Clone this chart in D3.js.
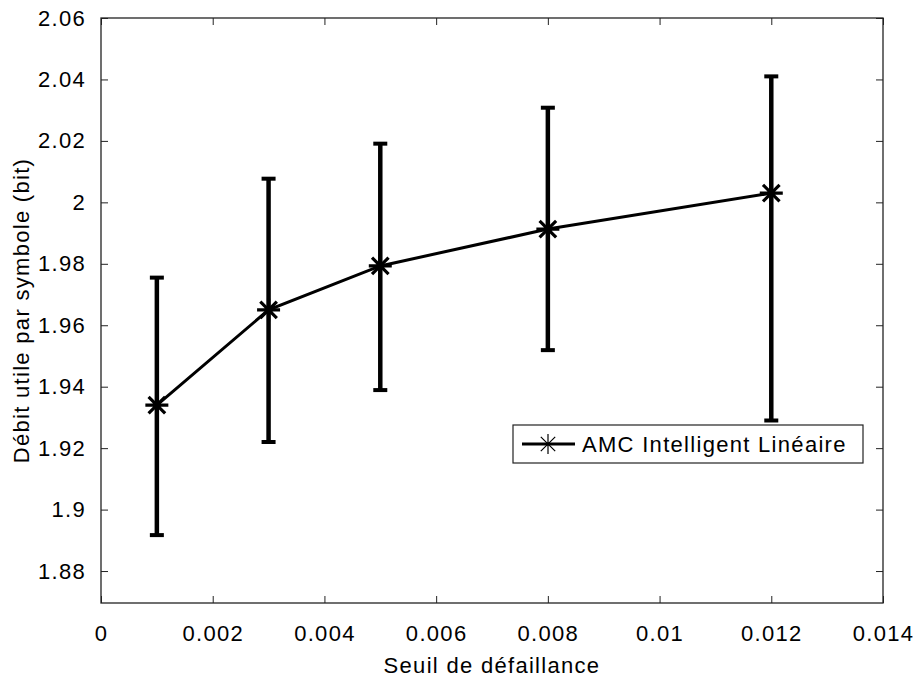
<!DOCTYPE html>
<html>
<head>
<meta charset="utf-8">
<script src="https://cdn.jsdelivr.net/npm/d3@7"></script>
<style>
  body { margin: 0; background: #fff; }
  text { font-family: "Liberation Sans", Arial, sans-serif; fill: #000; font-size: 22px; letter-spacing: 1.3px; }
</style>
</head>
<body>
<svg id="chart" width="918" height="681"></svg>
<script>
// data
const thresholds = [0.001, 0.003, 0.005, 0.008, 0.012];
const meanRate = [1.934, 1.965, 1.9793, 1.9913, 2.003];
const upperRate = [1.9755, 2.0077, 2.0191, 2.0308, 2.041];
const lowerRate = [1.8917, 1.922, 1.9389, 1.9519, 1.929];
const xTicks = [0, 0.002, 0.004, 0.006, 0.008, 0.01, 0.012, 0.014];
const yTicks = [1.88, 1.9, 1.92, 1.94, 1.96, 1.98, 2, 2.02, 2.04, 2.06];
const seriesName = "AMC Intelligent Linéaire";

const svg = d3.select("#chart");
const width = +svg.attr("width");
const height = +svg.attr("height");
const margin = { top: 18, right: 35, bottom: 78, left: 101 };
const innerWidth = width - margin.left - margin.right;
const innerHeight = height - margin.top - margin.bottom;

const data = thresholds.map((t, i) => ({
  x: t, y: meanRate[i], hi: upperRate[i], lo: lowerRate[i]
}));

const xScale = d3.scaleLinear().domain([0, 0.014]).range([0, innerWidth]);
const yScale = d3.scaleLinear().domain([1.8696, 2.06]).range([innerHeight, 0]);

const g = svg.append("g").attr("transform", `translate(${margin.left},${margin.top})`);

const fmt = (d) => (d === 0 ? "0" : String(+d.toFixed(4)));
const tickLen = 7;

// bottom axis + mirrored top ticks
const xAxis = g.append("g")
  .attr("transform", `translate(0,${innerHeight})`)
  .call(d3.axisBottom(xScale).tickValues(xTicks).tickFormat(fmt)
    .tickSizeInner(-tickLen).tickSizeOuter(0).tickPadding(22));
g.append("g")
  .call(d3.axisTop(xScale).tickValues(xTicks).tickFormat("")
    .tickSizeInner(-tickLen).tickSizeOuter(0));

// left axis + mirrored right ticks
const yAxis = g.append("g")
  .call(d3.axisLeft(yScale).tickValues(yTicks).tickFormat(fmt)
    .tickSizeInner(-tickLen).tickSizeOuter(0).tickPadding(15));
g.append("g")
  .attr("transform", `translate(${innerWidth},0)`)
  .call(d3.axisRight(yScale).tickValues(yTicks).tickFormat("")
    .tickSizeInner(-tickLen).tickSizeOuter(0));

g.selectAll(".domain").remove();
g.selectAll(".tick line").attr("stroke", "#222").attr("stroke-width", 1);
g.selectAll(".tick text").attr("font-size", null).attr("font-family", null).attr("fill", "#000");
g.selectAll("g").attr("font-size", null).attr("font-family", null);

// axes box
g.append("rect")
  .attr("x", 0).attr("y", 0)
  .attr("width", innerWidth).attr("height", innerHeight)
  .attr("fill", "none").attr("stroke", "#222").attr("stroke-width", 1.3);

// error bars
const capHalf = 7;
const bars = g.append("g").attr("stroke", "#000").attr("fill", "none");
bars.selectAll(".bar").data(data).enter().append("line")
  .attr("x1", (d) => xScale(d.x)).attr("x2", (d) => xScale(d.x))
  .attr("y1", (d) => yScale(d.lo)).attr("y2", (d) => yScale(d.hi))
  .attr("stroke-width", 4.5);
bars.selectAll(".capTop").data(data).enter().append("line")
  .attr("x1", (d) => xScale(d.x) - capHalf).attr("x2", (d) => xScale(d.x) + capHalf)
  .attr("y1", (d) => yScale(d.hi)).attr("y2", (d) => yScale(d.hi))
  .attr("stroke-width", 4);
bars.selectAll(".capBot").data(data).enter().append("line")
  .attr("x1", (d) => xScale(d.x) - capHalf).attr("x2", (d) => xScale(d.x) + capHalf)
  .attr("y1", (d) => yScale(d.lo)).attr("y2", (d) => yScale(d.lo))
  .attr("stroke-width", 4);

// mean line
const line = d3.line().x((d) => xScale(d.x)).y((d) => yScale(d.y));
g.append("path").datum(data)
  .attr("d", line)
  .attr("fill", "none").attr("stroke", "#000").attr("stroke-width", 3);

// asterisk markers ("+" and "x")
const starPath = (r) => {
  const d = r * 0.72;
  return `M${-r},0L${r},0M0,${-r}L0,${r}M${-d},${-d}L${d},${d}M${-d},${d}L${d},${-d}`;
};
g.selectAll(".star").data(data).enter().append("path")
  .attr("transform", (d) => `translate(${xScale(d.x)},${yScale(d.y)})`)
  .attr("d", starPath(11.5))
  .attr("fill", "none").attr("stroke", "#000").attr("stroke-width", 3.2);

// legend
const legend = svg.append("g").attr("transform", "translate(513,425)");
legend.append("rect")
  .attr("width", 350).attr("height", 38)
  .attr("fill", "#fff").attr("stroke", "#222").attr("stroke-width", 1.2);
legend.append("line")
  .attr("x1", 9).attr("x2", 62).attr("y1", 19).attr("y2", 19)
  .attr("stroke", "#000").attr("stroke-width", 3);
legend.append("path")
  .attr("transform", "translate(35,19)")
  .attr("d", starPath(10))
  .attr("fill", "none").attr("stroke", "#000").attr("stroke-width", 1.2);
legend.append("text")
  .attr("x", 69).attr("y", 27)
  .text(seriesName);

// axis titles
svg.append("text")
  .attr("x", margin.left + innerWidth / 2).attr("y", 673)
  .attr("text-anchor", "middle")
  .text("Seuil de défaillance");
svg.append("text")
  .attr("transform", `translate(29,${margin.top + innerHeight / 2}) rotate(-90)`)
  .attr("text-anchor", "middle")
  .text("Débit utile par symbole (bit)");
</script>
</body>
</html>
